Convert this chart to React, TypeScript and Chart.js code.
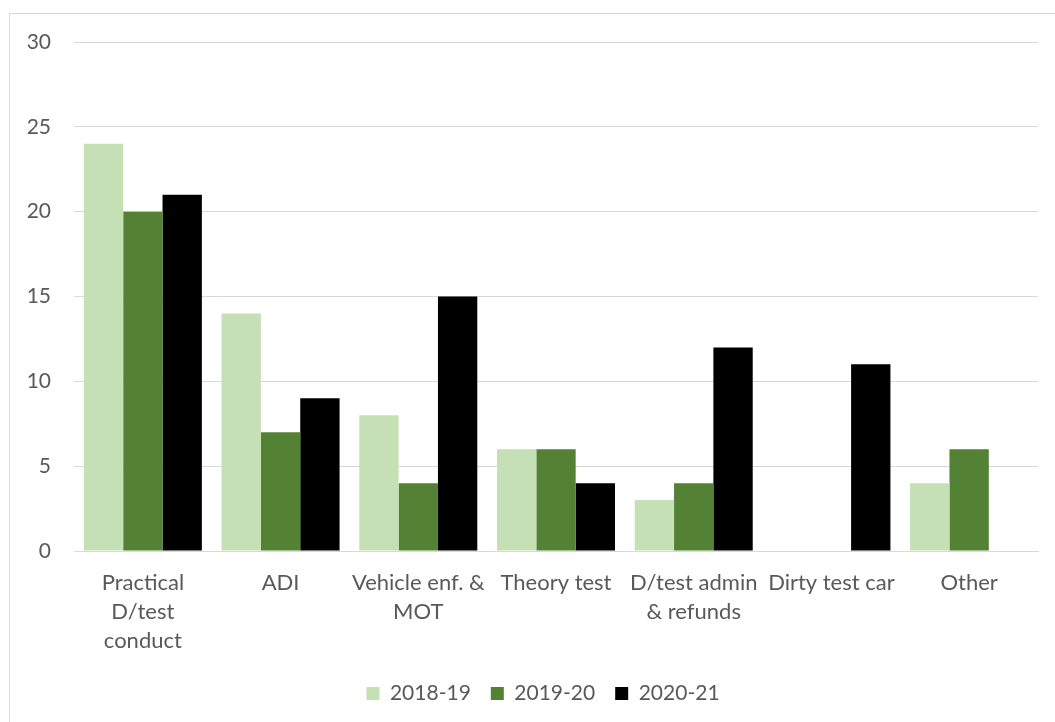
import React, { useEffect, useRef } from "react";
import { Chart, registerables } from "chart.js";

Chart.register(...registerables);

const categories: string[][] = [
  ["Practical", "D/test", "conduct"],
  ["ADI"],
  ["Vehicle enf. &", "MOT"],
  ["Theory test"],
  ["D/test admin", "& refunds"],
  ["Dirty test car"],
  ["Other"],
];
const seriesNames = ["2018-19", "2019-20", "2020-21"];
const values2018: (number | null)[] = [24, 14, 8, 6, 3, null, 4];
const values2019: (number | null)[] = [20, 7, 4, 6, 4, null, 6];
const values2020: (number | null)[] = [21, 9, 15, 4, 12, 11, null];
const seriesColors = ["#C5E0B4", "#548235", "#000000"];
const yTicks = { min: 0, max: 30, step: 5 };

const FONT = "Lato, 'Open Sans', sans-serif";
const TEXT = "#595959";
const GRID = "#D9D9D9";

const legendShift = {
  id: "legendShift",
  afterLayout(chart: any) {
    if (chart.legend) {
      chart.legend.left += 24;
      chart.legend.right += 24;
    }
  },
};

export default function App() {
  const ref = useRef<HTMLCanvasElement>(null);
  useEffect(() => {
    const canvas = ref.current;
    if (!canvas) return;
    const chart = new Chart(canvas, {
      type: "bar",
      data: {
        labels: categories,
        datasets: [values2018, values2019, values2020].map((d, i) => ({
          label: seriesNames[i],
          data: d,
          backgroundColor: seriesColors[i],
          borderWidth: 0,
          categoryPercentage: 0.857,
          barPercentage: 1.0,
        })),
      },
      options: {
        responsive: false,
        animation: false,
        devicePixelRatio: 1,
        layout: { padding: { left: 0, right: 17, top: 42, bottom: 8 } },
        plugins: {
          tooltip: { enabled: false },
          legend: {
            position: "bottom",
            labels: {
              boxWidth: 13,
              boxHeight: 13,
              padding: 20,
              color: TEXT,
              font: { family: FONT, size: 21 },
            },
          },
        },
        scales: {
          x: {
            grid: { display: false, drawTicks: false },
            border: { display: true, color: GRID, width: 1 },
            ticks: {
              color: TEXT,
              font: { family: FONT, size: 22, lineHeight: 1.32 },
              padding: 17,
              maxRotation: 0,
              autoSkip: false,
            },
            afterFit: (scale: any) => {
              scale.height = 112;
            },
          },
          y: {
            min: yTicks.min,
            max: yTicks.max,
            grid: { color: GRID, lineWidth: 1, drawTicks: false },
            border: { display: false },
            ticks: {
              stepSize: yTicks.step,
              color: TEXT,
              font: { family: FONT, size: 21 },
              padding: 23,
            },
            afterFit: (scale: any) => {
              scale.width = 74;
            },
          },
        },
      },
      plugins: [legendShift],
    });
    return () => chart.destroy();
  }, []);

  return (
    <div
      style={{
        position: "absolute",
        left: 0,
        top: 0,
        width: 1055,
        height: 722,
        overflow: "hidden",
        background: "#fff",
      }}
    >
      <div
        style={{
          position: "absolute",
          left: 9,
          top: 13,
          width: 1100,
          height: 800,
          border: "1px solid #D9D9D9",
          boxSizing: "border-box",
        }}
      />
      <canvas
        ref={ref}
        width={1055}
        height={722}
        style={{ position: "absolute", left: 0, top: 0, width: 1055, height: 722 }}
      />
    </div>
  );
}
